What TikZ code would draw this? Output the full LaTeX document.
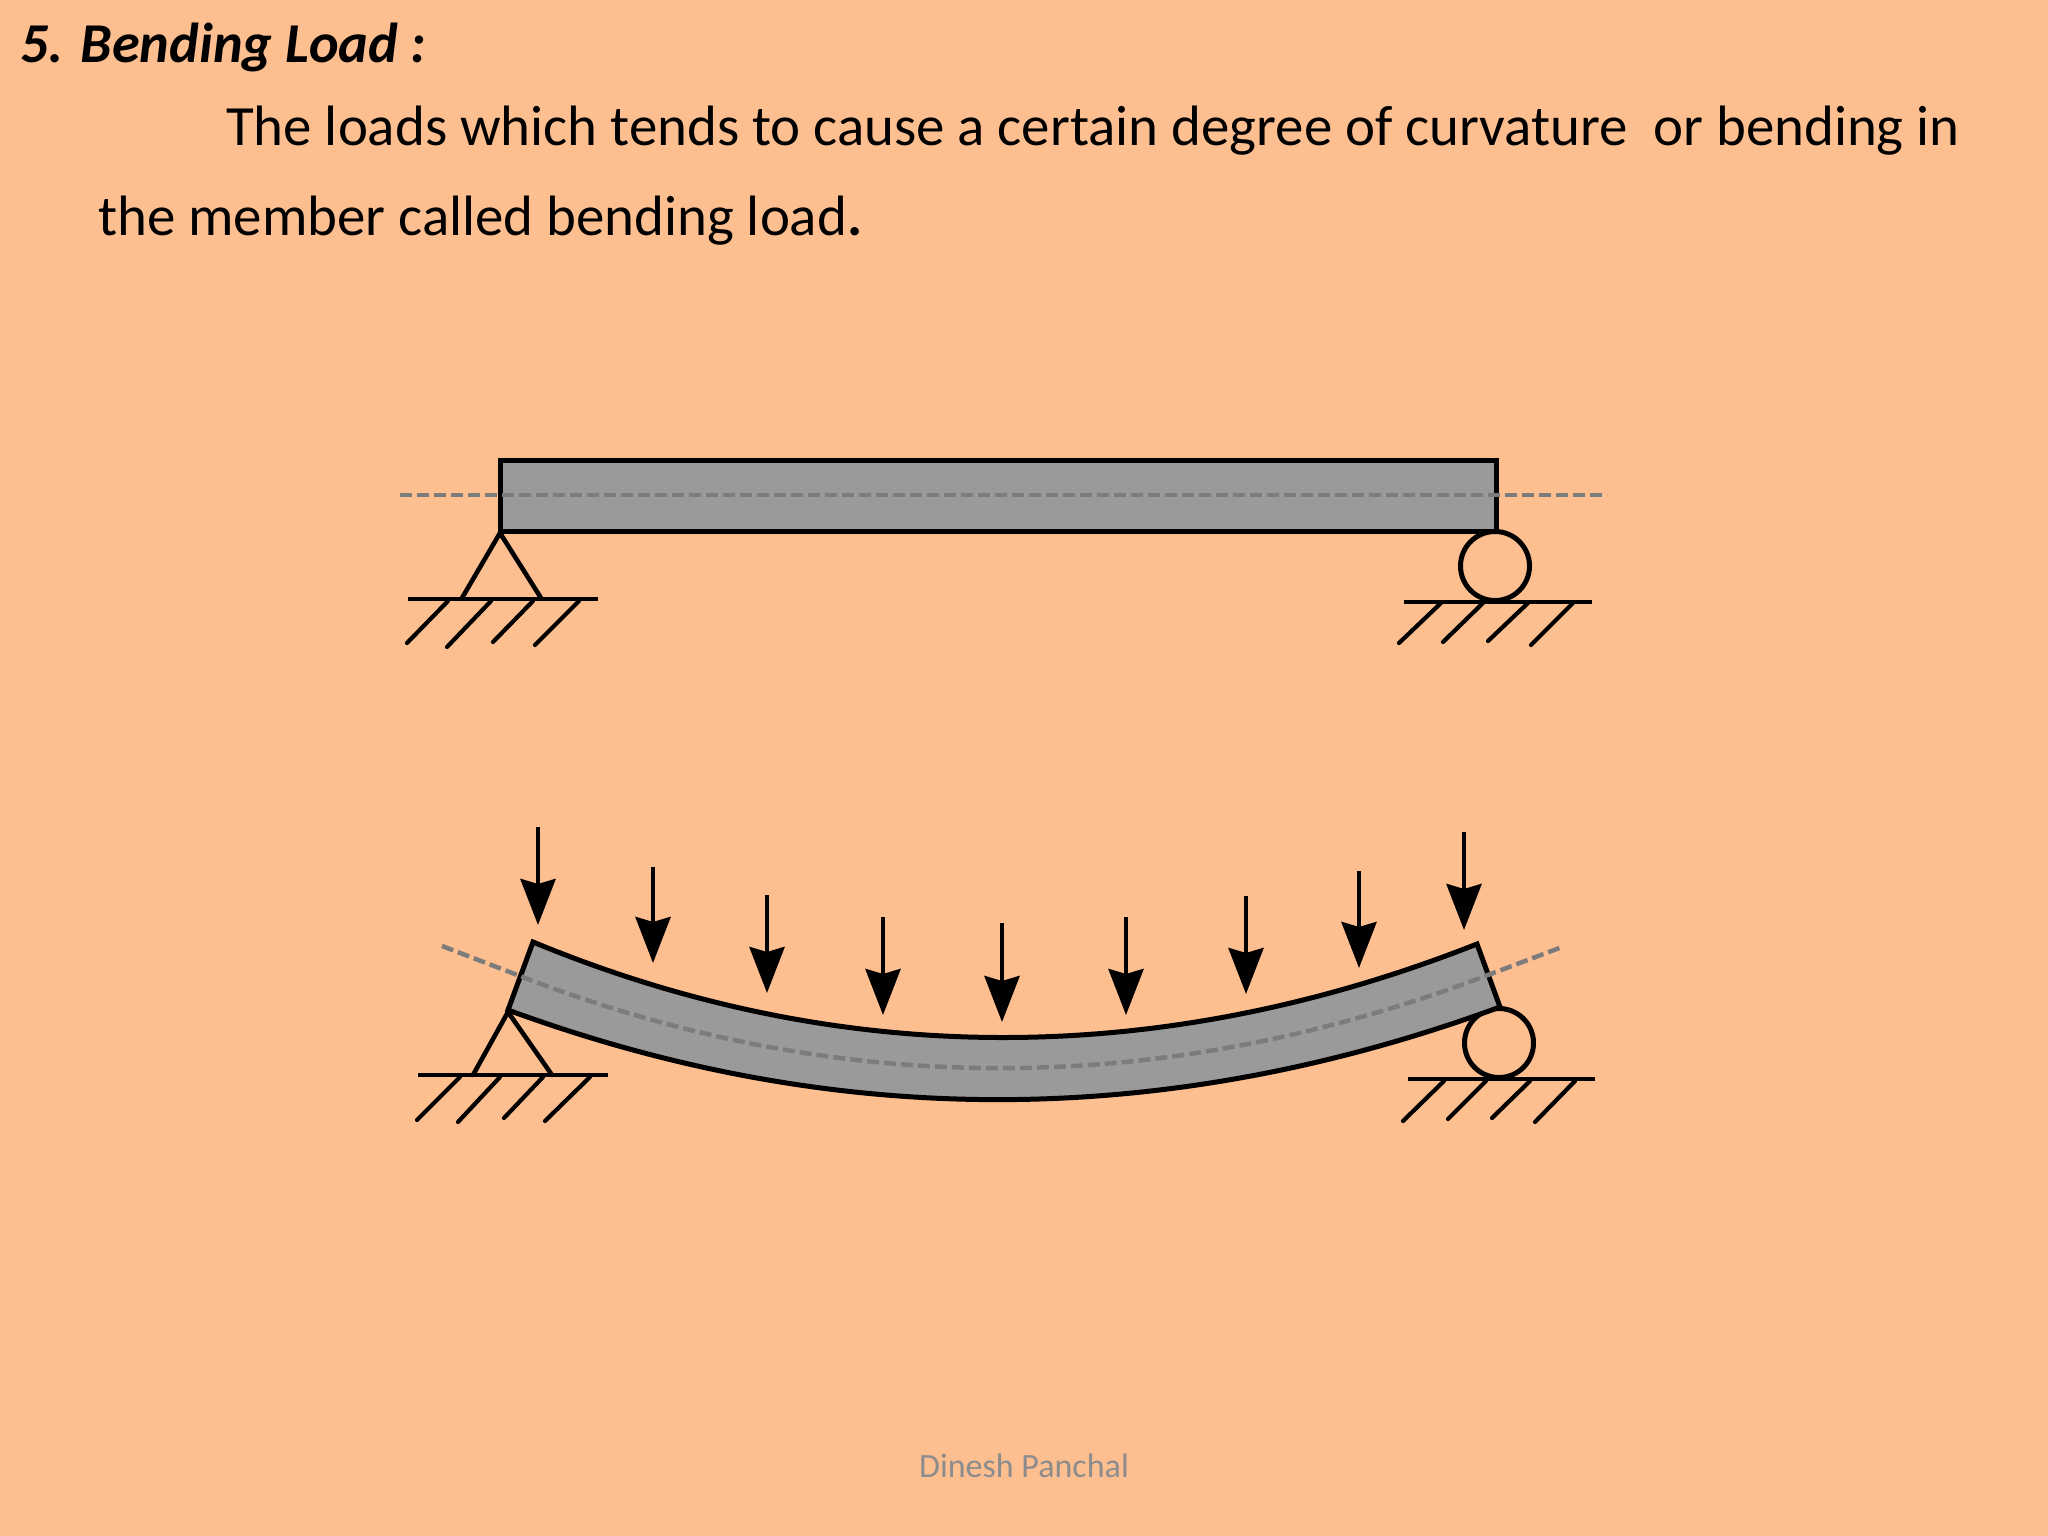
\documentclass[tikz,border=0pt]{standalone}
\usepackage{fontspec}
\setmainfont{Carlito}
\usetikzlibrary{arrows.meta}
\definecolor{bg}{HTML}{FDBE90}
\definecolor{beamgray}{HTML}{9A9A9B}
\definecolor{axisgray}{HTML}{7C7C7C}
\definecolor{footgray}{HTML}{8C8C8C}
\tikzset{
  x=1pt,y=-1pt,
  beam/.style={draw=black,line width=5pt,fill=beamgray,line join=miter},
  axisline/.style={draw=axisgray,line width=4.5pt,dash pattern=on 12pt off 5pt},
  support/.style={draw=black,line width=4.6pt,line cap=round},
  groundline/.style={draw=black,line width=4.6pt},
  hatch/.style={draw=black,line width=4.2pt,line cap=round},
  load/.style={draw=black,line width=4.6pt,-{Stealth[length=46pt,width=35pt,inset=5pt]}},
  txt/.style={anchor=base west,inner sep=0pt,text=black},
}
\begin{document}
\begin{tikzpicture}
\useasboundingbox[fill=bg] (0,0) rectangle (2048,1536);
\node[txt,font={\fontsize{56.3}{56.3}\selectfont\bfseries\itshape}] (title) at (20,63) {5. Bending Load :};
\node[txt,font={\fontsize{56.9}{56.9}\selectfont}] (line1) at (226,146) {The loads which tends to cause a certain degree of curvature\ \ or bending in};
\node[txt,font={\fontsize{56.9}{56.9}\selectfont}] (line2) at (98,235) {the member called bending load\textbf{.}};
\node[anchor=base,inner sep=0pt,text=footgray,font={\fontsize{34}{34}\selectfont}] (foot) at (1024,1477) {Dinesh Panchal};

% unloaded beam
\coordinate (ul) at (500,460); \coordinate (lr) at (1496,531);
\coordinate (axa) at (400,495); \coordinate (axb) at (1607,495);
\path[beam] (ul) rectangle (lr);
\path[axisline] (axa) -- (axb);
\coordinate (ta) at (500,533); \coordinate (tb) at (462,598); \coordinate (tc) at (541,598);
\path[support] (tb) -- (ta) -- (tc);
\coordinate (g1a) at (408,599); \coordinate (g1b) at (598,599);
\path[groundline] (g1a) -- (g1b);
\foreach \a/\b/\c/\d in {448/601/407/643,491/601/447/647,533/601/493/642,579/601/535/645}
  \path[hatch] (\a,\b) -- (\c,\d);
\node[circle,draw=black,line width=5pt,minimum size=69pt,inner sep=0pt] (roll1) at (1495,566) {};
\coordinate (g2a) at (1404,602); \coordinate (g2b) at (1592,602);
\path[groundline] (g2a) -- (g2b);
\foreach \a/\b/\c/\d in {1441/603/1399/643,1483/603/1443/642,1528/603/1488/641,1573/603/1531/645}
  \path[hatch] (\a,\b) -- (\c,\d);

% loaded beam
\node[circle,draw=black,line width=5pt,minimum size=69pt,inner sep=0pt] (roll2) at (1499,1043) {};
\coordinate (tl) at (533,942); \coordinate (tr) at (1477,944);
\coordinate (bl) at (508,1010); \coordinate (br) at (1500,1007);
\path[beam] (tl) .. controls (840,1069) and (1160,1069) .. (tr) -- (br)
  .. controls (1165,1130) and (835,1130) .. (bl) -- cycle;
\coordinate (cl) at (520,976); \coordinate (cr) at (1488,975);
\coordinate (dl) at (442,946); \coordinate (dr) at (1562,947);
\path[axisline] (dl) -- (cl) .. controls (838,1099) and (1162,1099) .. (cr) -- (dr);
\coordinate (sa) at (508,1012); \coordinate (sb) at (473,1075); \coordinate (sc) at (552,1075);
\path[support] (sb) -- (sa) -- (sc);
\coordinate (g3a) at (418,1075); \coordinate (g3b) at (608,1075);
\path[groundline] (g3a) -- (g3b);
\foreach \a/\b/\c/\d in {460/1077/417/1120,500/1077/458/1122,543/1077/504/1118,590/1077/545/1121}
  \path[hatch] (\a,\b) -- (\c,\d);
\coordinate (g4a) at (1408,1079); \coordinate (g4b) at (1595,1079);
\path[groundline] (g4a) -- (g4b);
\foreach \a/\b/\c/\d in {1444/1081/1403/1121,1486/1081/1448/1119,1530/1081/1492/1118,1575/1081/1535/1122}
  \path[hatch] (\a,\b) -- (\c,\d);

% loads
\foreach \x/\t/\e in {538/827/925,653/867/963,767/895/993,883/917/1015,1002/923/1022,1126/917/1015,1246/896/994,1359/871/968,1464/832/930}{
  \coordinate (s) at (\x,\t); \coordinate (e) at (\x,\e);
  \path[load] (s) -- (e);
}
\end{tikzpicture}
\end{document}
